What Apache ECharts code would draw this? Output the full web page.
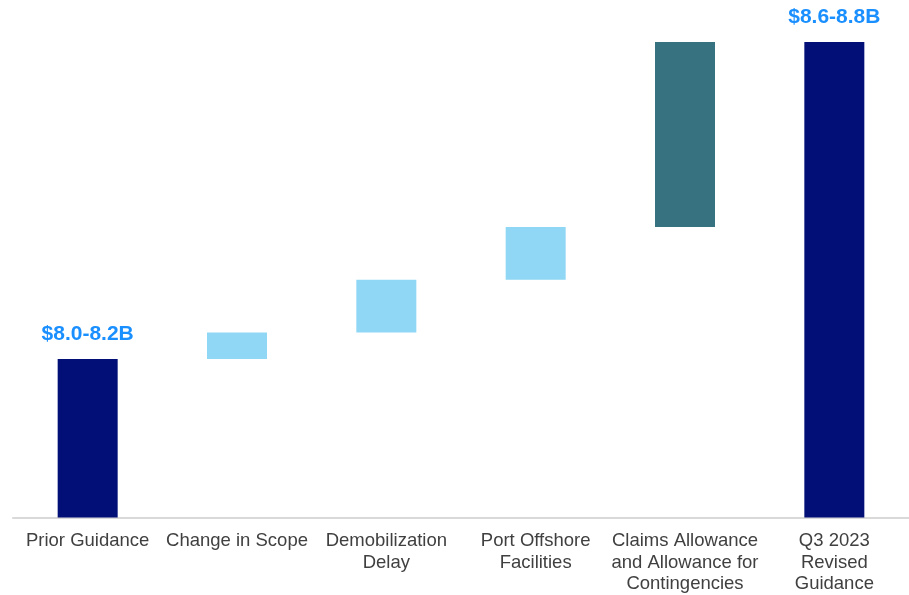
<!DOCTYPE html>
<html>
<head>
<meta charset="utf-8">
<script src="https://cdn.jsdelivr.net/npm/echarts@6/dist/echarts.min.js"></script>
<style>html,body{margin:0;padding:0;background:#fff;}#c{width:909px;height:595px;}</style>
</head>
<body>
<div id="c"></div>
<script>
var categories = ['Prior Guidance', 'Change in Scope', 'Demobilization\nDelay', 'Port Offshore\nFacilities', 'Claims Allowance\nand Allowance for\nContingencies', 'Q3 2023\nRevised\nGuidance'];
var startTotal = 8.1;
var deltas = [0.05, 0.1, 0.1, 0.35];
var endTotal = 8.7;
var valueLabels = ['$8.0-8.2B', '', '', '', '', '$8.6-8.8B'];
var barColors = ['#020F76', '#8FD7F5', '#8FD7F5', '#8FD7F5', '#377281', '#020F76'];

var base = [0];
var visible = [startTotal];
var run = startTotal;
deltas.forEach(function (d) { base.push(run); visible.push(d); run += d; });
base.push(0);
visible.push(endTotal);

var chart = echarts.init(document.getElementById('c'));
chart.setOption({
  animation: false,
  grid: { left: 13, width: 899, top: 42, bottom: 76 },
  xAxis: {
    type: 'category',
    data: categories,
    axisLine: { lineStyle: { color: '#D9D9D9', width: 2 } },
    axisTick: { show: false },
    axisLabel: {
      color: '#404040', fontSize: 18.5, lineHeight: 21.5, margin: 13,
      fontFamily: 'Liberation Sans, Arial, sans-serif', interval: 0
    }
  },
  yAxis: {
    type: 'value', min: 7.8, max: 8.7,
    show: false, splitLine: { show: false }
  },
  series: [
    {
      type: 'bar', stack: 'w', data: base, barWidth: 60,
      itemStyle: { color: 'transparent' }, silent: true
    },
    {
      type: 'bar', stack: 'w', barWidth: 60,
      data: visible.map(function (v, i) {
        return { value: v, itemStyle: { color: barColors[i] } };
      }),
      label: {
        show: true, position: 'top', distance: 14,
        color: '#1A8FFF', fontWeight: 'bold', fontSize: 21,
        fontFamily: 'Liberation Sans, Arial, sans-serif',
        formatter: function (p) { return valueLabels[p.dataIndex]; }
      }
    }
  ]
});
</script>
</body>
</html>
